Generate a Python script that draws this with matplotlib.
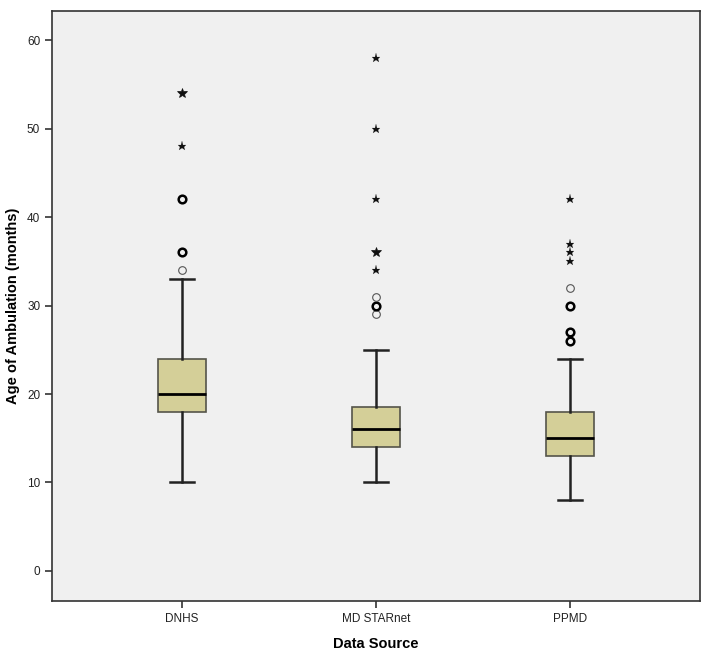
import matplotlib
matplotlib.use("Agg")
import matplotlib.pyplot as plt

plt.rcParams['font.family'] = ['Liberation Sans Narrow', 'Liberation Sans', 'DejaVu Sans']

sources = ['DNHS', 'MD STARnet', 'PPMD']
whis_lo = [10, 10, 8]
q1 = [18, 14, 13]
median = [20, 16, 15]
q3 = [24, 18.5, 18]
whis_hi = [33, 25, 24]

# mild outliers (circles) and extreme outliers (stars); "heavy" = repeated values
circles = [[34, 36, 42], [29, 30, 31], [26, 27, 30, 32]]
circles_heavy = [[False, True, True], [False, True, False], [True, True, True, False]]
stars = [[48, 54], [34, 36, 42, 50, 58], [35, 36, 37, 42]]
stars_heavy = [[False, True], [False, True, False, False, False], [False, False, False, False]]

fig = plt.figure(figsize=(7.14, 6.53), dpi=100)
ax = fig.add_axes([52 / 714, 1 - 601 / 653, 648 / 714, 590 / 653])
ax.set_facecolor('#f0f0f0')

stats = []
for i in range(3):
    stats.append({'med': median[i], 'q1': q1[i], 'q3': q3[i],
                  'whislo': whis_lo[i], 'whishi': whis_hi[i], 'fliers': []})

ax.bxp(stats, positions=[1, 2, 3], widths=0.246, patch_artist=True,
       showfliers=False,
       boxprops=dict(facecolor='#d4cf98', edgecolor='#55544a', linewidth=1.2),
       medianprops=dict(color='black', linewidth=2),
       whiskerprops=dict(color='#222222', linewidth=1.8),
       capprops=dict(color='#222222', linewidth=1.8),
       capwidths=0.125)

for i in range(3):
    x = i + 1
    for v, h in zip(circles[i], circles_heavy[i]):
        ax.plot(x, v, 'o', ms=5.5, mfc='none', mec='black' if h else '#555555',
                mew=1.8 if h else 0.8)
    for v, h in zip(stars[i], stars_heavy[i]):
        ax.plot(x, v, '*', ms=7.5 if h else 6.5, color='#111111',
                mec='#111111', mew=0.5 if h else 0.1)

ax.set_xlim(0.33, 3.67)
ax.set_ylim(-3.4, 63.3)
ax.set_yticks([0, 10, 20, 30, 40, 50, 60])
ax.set_xticks([1, 2, 3])
ax.set_xticklabels(sources)
ax.tick_params(axis='both', direction='out', length=5, width=1.2,
               color='#333333', labelsize=8.5, labelcolor='#222222')
for s in ax.spines.values():
    s.set_color('#333333')
    s.set_linewidth(1.2)

ax.set_ylabel('Age of Ambulation (months)', fontsize=10.5, fontweight='bold',
              family=['Liberation Sans', 'DejaVu Sans'], labelpad=5)
ax.set_xlabel('Data Source', fontsize=10.5, fontweight='bold',
              family=['Liberation Sans', 'DejaVu Sans'], labelpad=9)

fig.savefig('out.png', dpi=100)
